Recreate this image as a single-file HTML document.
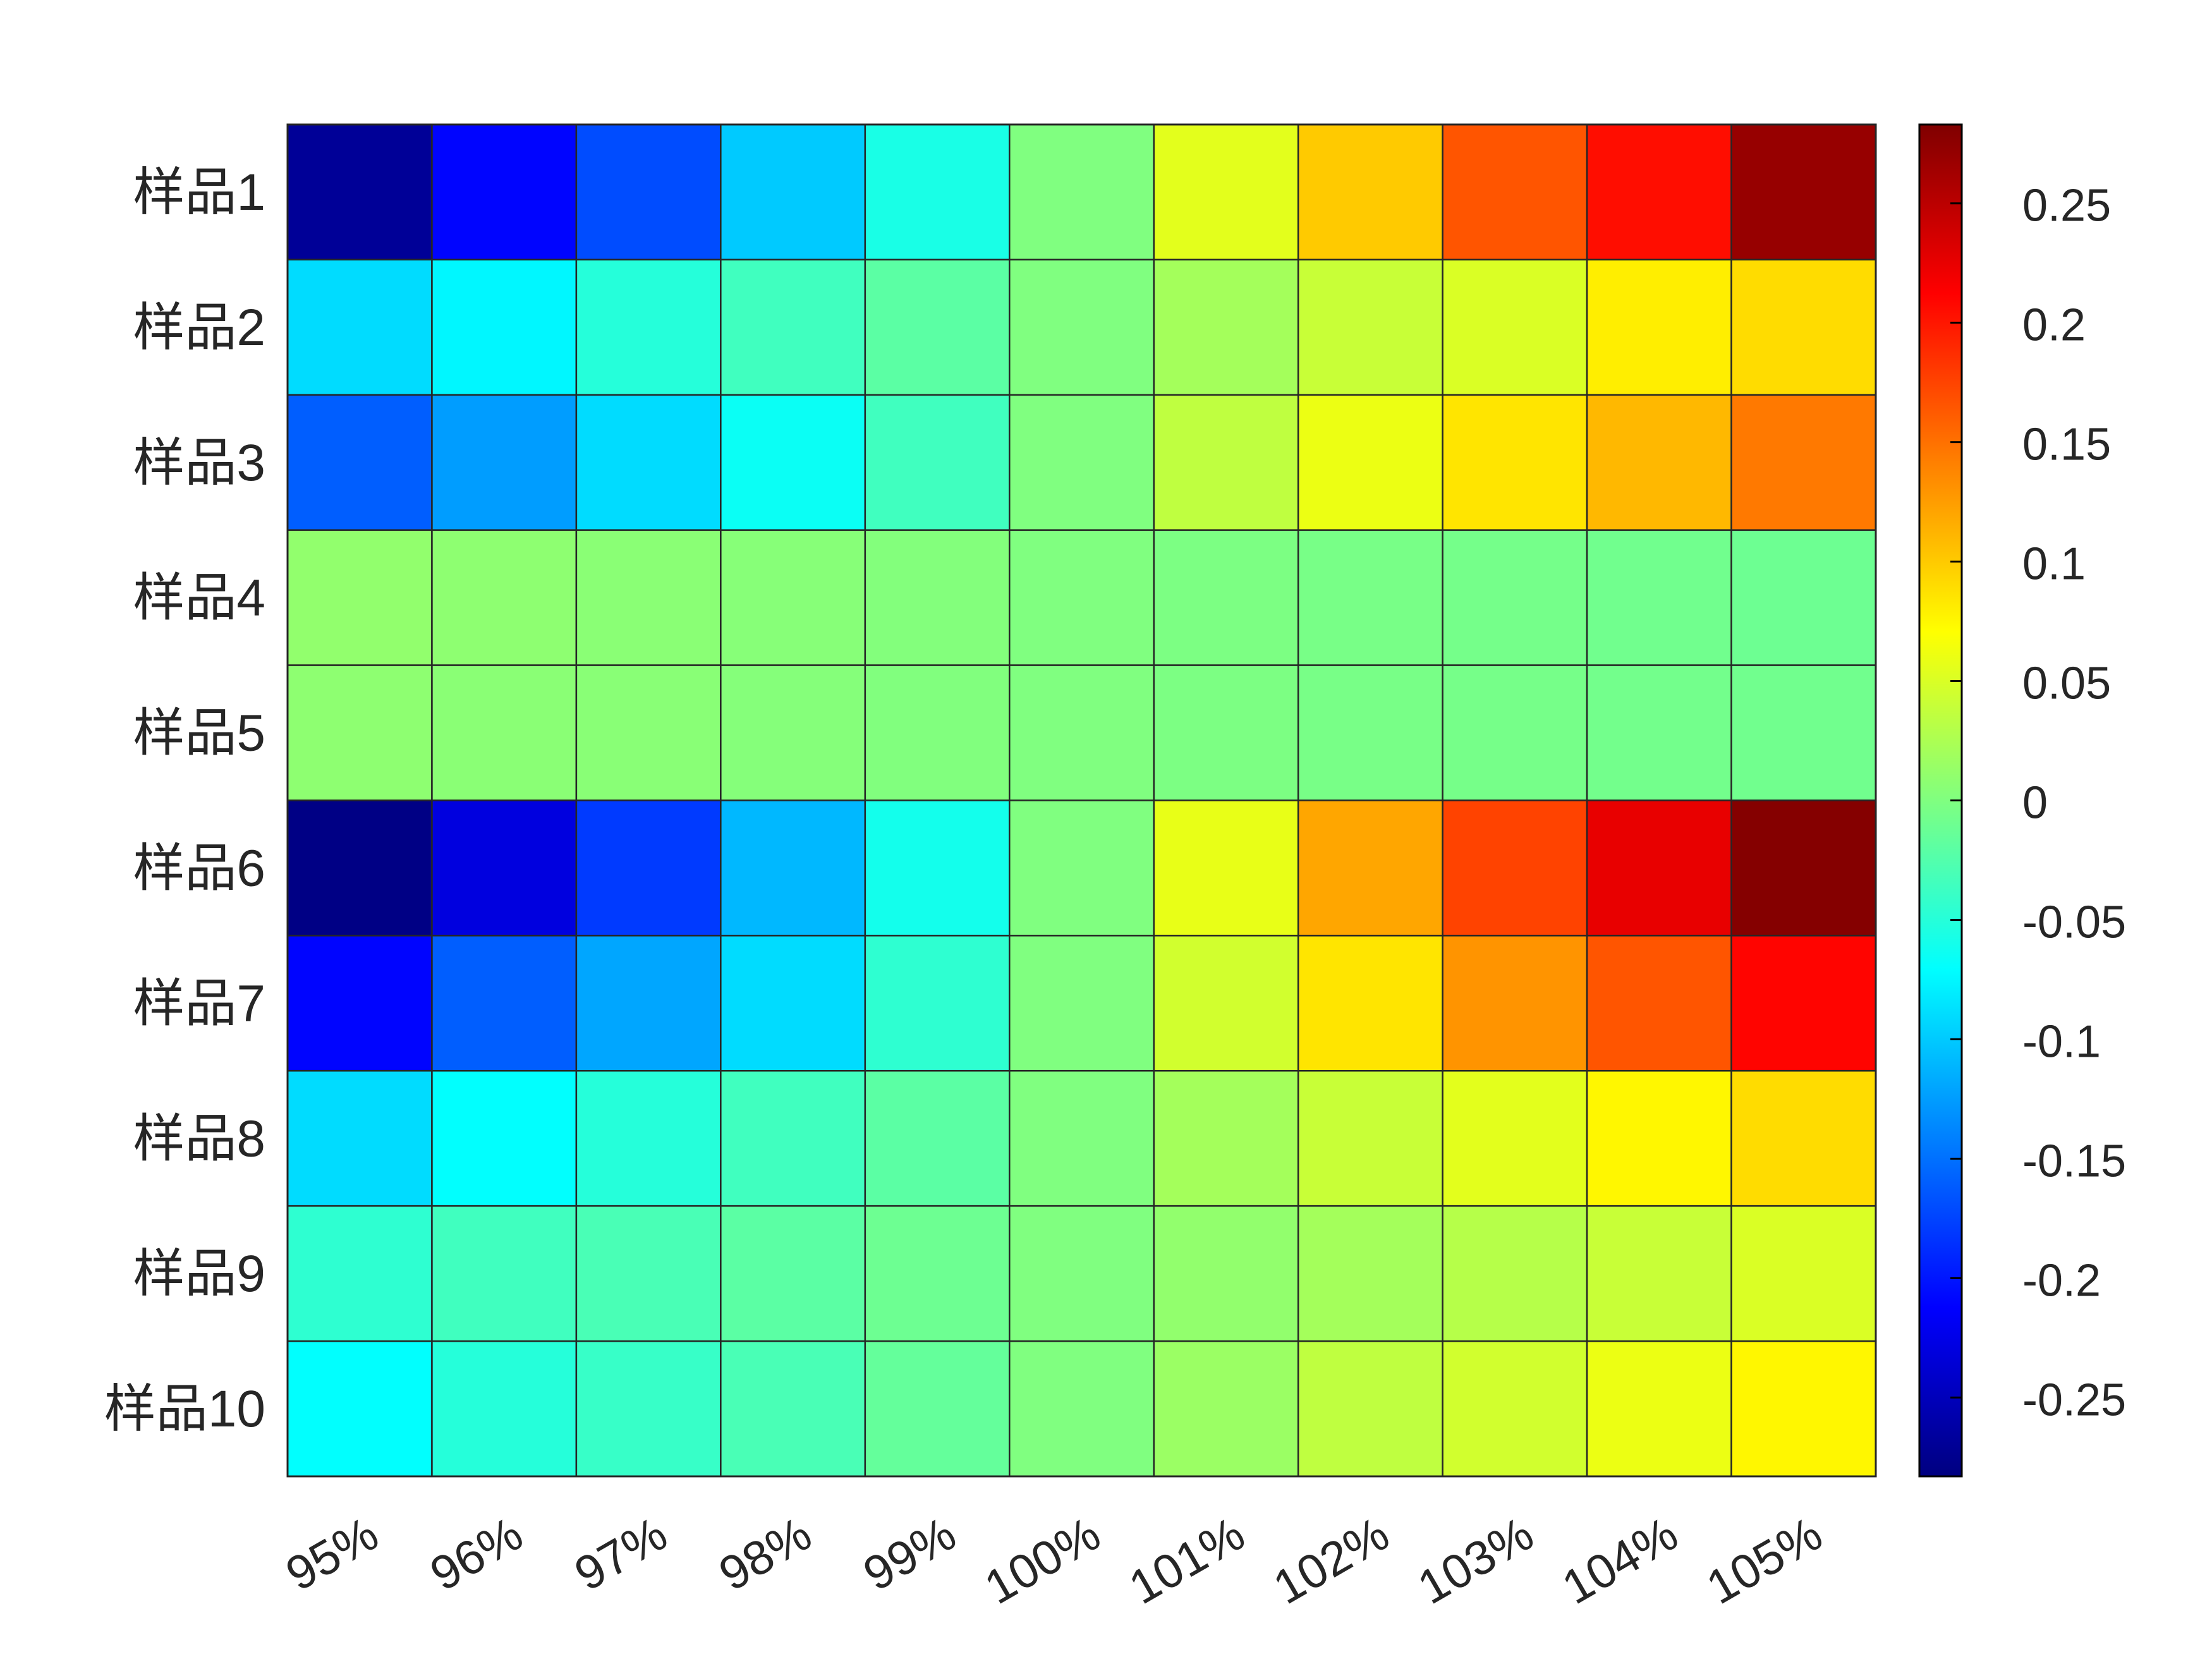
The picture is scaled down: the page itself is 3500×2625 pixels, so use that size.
<!DOCTYPE html>
<html><head><meta charset="utf-8"><style>
html,body{margin:0;padding:0;background:#fff;}
svg{display:block;}
text{font-family:"Liberation Sans","Noto Sans CJK SC",sans-serif;fill:#262626;}
</style></head><body>
<svg id="chart" width="3500" height="2625" viewBox="0 0 3500 2625" xmlns="http://www.w3.org/2000/svg">
<defs><linearGradient id="jetgrad" x1="0" y1="1" x2="0" y2="0"></linearGradient></defs>
<g id="cells"></g>
<g id="ylabels"></g>
<g id="xlabels"></g>
<g id="cbar"></g>
</svg>
<script>
const rowLabels = ["样品1","样品2","样品3","样品4","样品5","样品6","样品7","样品8","样品9","样品10"];
const colLabels = ["95%","96%","97%","98%","99%","100%","101%","102%","103%","104%","105%"];
const row1 = [-0.27,-0.21,-0.17,-0.10,-0.057,0,0.055,0.10,0.165,0.205,0.27];
const row2 = [-0.09,-0.075,-0.05,-0.035,-0.02,0,0.02,0.04,0.05,0.08,0.09];
const row3 = [-0.16,-0.125,-0.09,-0.065,-0.035,0,0.035,0.06,0.085,0.11,0.145];
const row4 = [0.01,0.008,0.006,0.004,0.002,0,-0.002,-0.004,-0.006,-0.008,-0.01];
const row5 = [0.008,0.006,0.005,0.003,0.001,0,-0.002,-0.004,-0.005,-0.007,-0.008];
const row6 = [-0.28,-0.23,-0.18,-0.11,-0.06,0,0.058,0.12,0.175,0.225,0.28];
const row7 = [-0.21,-0.16,-0.12,-0.09,-0.045,0,0.045,0.085,0.13,0.165,0.21];
const row8 = [-0.09,-0.07,-0.05,-0.035,-0.02,0,0.02,0.04,0.055,0.075,0.09];
const row9 = [-0.045,-0.035,-0.03,-0.02,-0.01,0,0.01,0.02,0.03,0.04,0.05];
const row10 = [-0.07,-0.05,-0.04,-0.03,-0.015,0,0.015,0.035,0.045,0.06,0.075];
const values = [row1,row2,row3,row4,row5,row6,row7,row8,row9,row10];
const cbTicks = [-0.25,-0.2,-0.15,-0.1,-0.05,0,0.05,0.1,0.15,0.2,0.25];
const cbTickLabels = ["-0.25","-0.2","-0.15","-0.1","-0.05","0","0.05","0.1","0.15","0.2","0.25"];
const cmin = -0.283, cmax = 0.283;

const NS="http://www.w3.org/2000/svg";
const L=455,R=2968,T=197,B=2336;
const CBL=3037,CBR=3104;
const nC=colLabels.length,nR=rowLabels.length;
const cw=(R-L)/nC,ch=(B-T)/nR;
function xPos(i){return L+i*cw;}
function yPos(j){return T+j*ch;}
function cbY(v){return B-(v-cmin)/(cmax-cmin)*(B-T);}
function cl(x){return Math.max(0,Math.min(1,x));}
function jet(t){t=cl(t);
 const r=cl(1.5-Math.abs(4*t-3)),g=cl(1.5-Math.abs(4*t-2)),b=cl(1.5-Math.abs(4*t-1));
 return `rgb(${Math.round(r*255)},${Math.round(g*255)},${Math.round(b*255)})`;}
function colorOf(v){return jet((v-cmin)/(cmax-cmin));}
function mk(tag,attrs,parent){const e=document.createElementNS(NS,tag);for(const k in attrs)e.setAttribute(k,attrs[k]);parent.appendChild(e);return e;}

const cells=document.getElementById('cells');
values.forEach((row,j)=>row.forEach((v,i)=>{
 const r=mk('rect',{x:xPos(i),y:yPos(j),width:cw,height:ch,fill:colorOf(v),stroke:'#262626','stroke-width':2.5},cells);
 
 
}));
const frame=mk('rect',{x:L,y:T,width:R-L,height:B-T,fill:'none',stroke:'#262626','stroke-width':3},cells);



const yl=document.getElementById('ylabels');
rowLabels.forEach((s,j)=>{
 const t=mk('text',{x:420,y:yPos(j)+ch/2+28,'text-anchor':'end','font-size':82},yl);
 t.textContent=s;
 
 
});
const xl=document.getElementById('xlabels');
colLabels.forEach((s,i)=>{
 const cx=xPos(i)+cw/2+35,cy=2443;
 const t=mk('text',{x:cx,y:cy,'text-anchor':'end','font-size':76,transform:`rotate(-30 ${cx} ${cy})`},xl);
 t.textContent=s;
 
 
});

const grad=document.getElementById('jetgrad');
for(let k=0;k<=64;k++){mk('stop',{offset:(k/64),'stop-color':jet(k/64)},grad);}
const cb=document.getElementById('cbar');
const bar=mk('rect',{x:CBL,y:T,width:CBR-CBL,height:B-T,fill:'url(#jetgrad)',stroke:'#000','stroke-width':3},cb);


cbTicks.forEach((v,k)=>{
 const y=cbY(v);
 const ln=mk('line',{x1:CBR-18,x2:CBR,y1:y,y2:y,stroke:'#000','stroke-width':3},cb);
 
 
 const t=mk('text',{x:3200,y:y+28,'font-size':72},cb);
 t.textContent=cbTickLabels[k];
 
 
});
</script>
</body></html>
